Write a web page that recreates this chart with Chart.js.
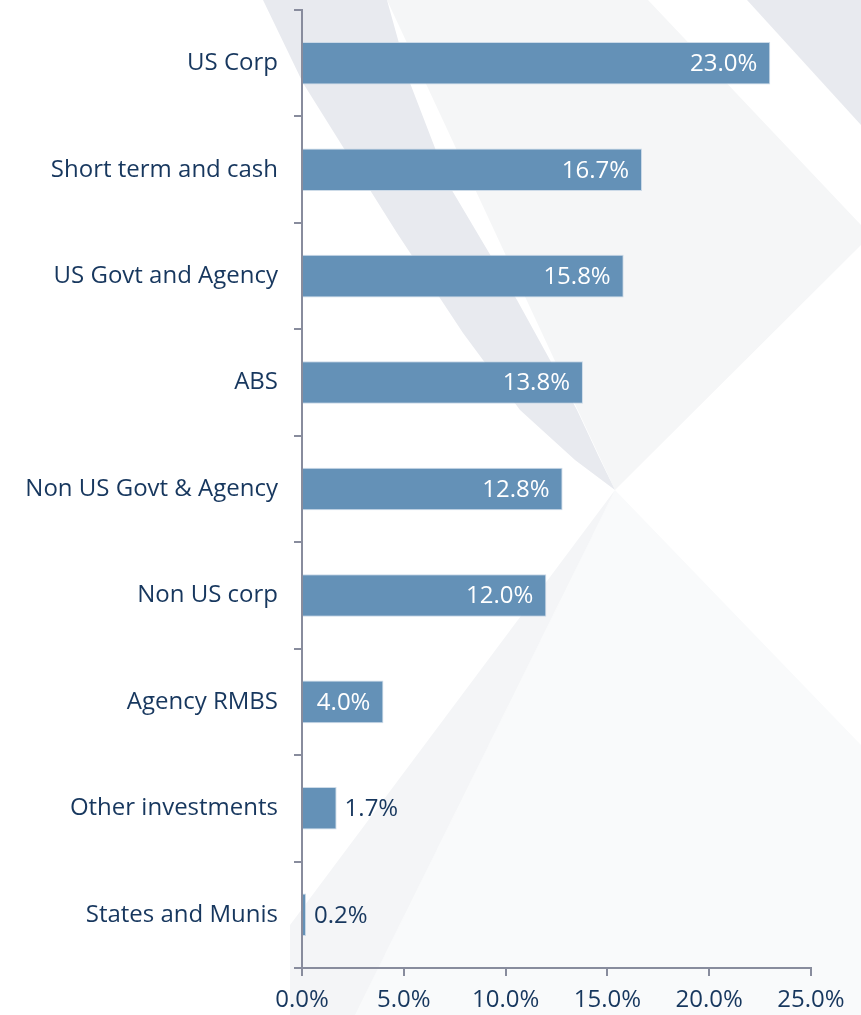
<!DOCTYPE html>
<html>
<head>
<meta charset="utf-8">
<script src="https://cdn.jsdelivr.net/npm/chart.js@4/dist/chart.umd.min.js"></script>
<style>
  html, body { margin: 0; padding: 0; background: #fff; }
  #wrap { width: 861px; height: 1015px; position: relative; }
</style>
</head>
<body>
<div id="wrap"><canvas id="allocChart"></canvas></div>
<script>
const categories = [
    'US Corp', 'Short term and cash', 'US Govt and Agency', 'ABS',
    'Non US Govt & Agency', 'Non US corp', 'Agency RMBS',
    'Other investments', 'States and Munis'
];
const allocation = [23.0, 16.7, 15.8, 13.8, 12.8, 12.0, 4.0, 1.7, 0.2];
const xTicks = [0, 5, 10, 15, 20, 25];

const NAVY = '#17375e';
const BAR = '#6491b7';
const AXIS = '#888c9d';
const FONT = "'Open Sans', sans-serif";

// faint decorative swooshes behind the plot
const backdrop = {
    id: 'backdrop',
    beforeDraw(chart) {
        const c = chart.ctx;
        const poly = (pts, fill) => {
            c.beginPath();
            c.moveTo(pts[0][0], pts[0][1]);
            for (let i = 1; i < pts.length; i++) c.lineTo(pts[i][0], pts[i][1]);
            c.closePath();
            c.fillStyle = fill;
            c.fill();
        };
        c.save();
        // light diamond on the right
        poly([[387, 0], [648, 0], [861, 225], [861, 245], [615, 490]], '#f5f6f7');
        // darker curved band narrowing to the centre point
        poly([[263, 0], [303, 83], [343, 147], [397, 233], [463, 333], [520, 410], [575, 460], [615, 490],
              [598, 455], [577, 410], [550, 360], [517, 300], [450, 187], [410, 83], [387, 0]], '#e8eaef');
        // top-right corner
        poly([[747, 0], [861, 0], [861, 125]], '#e8eaef');
        // lower soft area
        poly([[615, 490], [861, 745], [861, 1015], [355, 1015]], '#f9fafb');
        poly([[615, 490], [290, 925], [290, 1015], [355, 1015]], '#f4f5f7');
        c.restore();
    }
};

// value labels: white inside the bar, navy outside when it does not fit
const valueLabels = {
    id: 'valueLabels',
    afterDatasetsDraw(chart) {
        const c = chart.ctx;
        const meta = chart.getDatasetMeta(0);
        c.save();
        c.font = `24px ${FONT}`;
        c.textBaseline = 'middle';
        meta.data.forEach((bar, i) => {
            const txt = allocation[i].toFixed(1) + '%';
            const w = c.measureText(txt).width;
            const len = bar.x - bar.base;
            if (w + 24 < len) {
                c.fillStyle = '#ffffff';
                c.textAlign = 'right';
                c.fillText(txt, bar.x - 13, bar.y + 1);
            } else {
                c.fillStyle = NAVY;
                c.textAlign = 'left';
                c.fillText(txt, bar.x + 8, bar.y + 1);
            }
        });
        c.restore();
    }
};

new Chart(document.getElementById('allocChart'), {
    type: 'bar',
    data: {
        labels: categories,
        datasets: [{
            data: allocation,
            backgroundColor: BAR,
            borderColor: 'rgba(200,215,230,0.9)',
            borderWidth: 1,
            borderSkipped: 'start',
            barPercentage: 0.4,
            categoryPercentage: 1
        }]
    },
    options: {
        indexAxis: 'y',
        responsive: true,
        maintainAspectRatio: false,
        animation: false,
        layout: { padding: { top: 10, right: 50, left: 0, bottom: 0 } },
        plugins: { legend: { display: false }, tooltip: { enabled: false } },
        scales: {
            x: {
                min: 0,
                max: 25,
                afterBuildTicks(scale) { scale.ticks = xTicks.map(v => ({ value: v })); },
                afterFit(scale) { scale.height = 47; },
                border: { color: AXIS, width: 2 },
                grid: { drawOnChartArea: false, drawTicks: true, tickLength: 8, color: AXIS, lineWidth: 2 },
                ticks: {
                    color: NAVY,
                    font: { family: FONT, size: 24 },
                    padding: 10,
                    callback: v => v.toFixed(1) + '%'
                }
            },
            y: {
                afterFit(scale) {
                    scale.width = 302;
                    scale.paddingTop = 0;
                    scale.paddingBottom = 0;
                },
                border: { color: AXIS, width: 2 },
                grid: { drawOnChartArea: false, drawTicks: true, tickLength: 8, color: AXIS, lineWidth: 2, offset: true },
                ticks: {
                    color: NAVY,
                    font: { family: FONT, size: 24 },
                    padding: 16,
                    autoSkip: false
                }
            }
        }
    },
    plugins: [backdrop, valueLabels]
});
</script>
</body>
</html>
